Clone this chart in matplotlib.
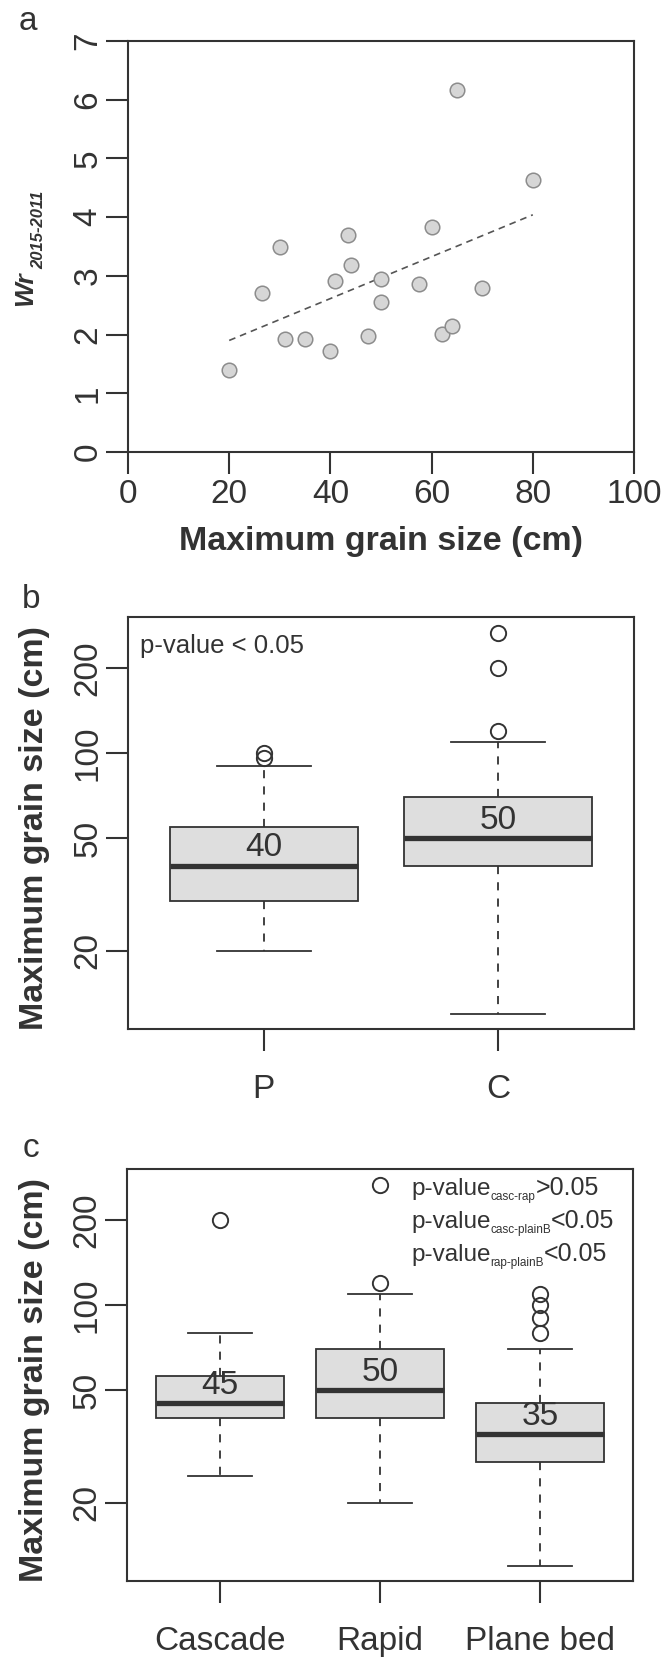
import matplotlib
matplotlib.use('Agg')
import matplotlib.pyplot as plt
from matplotlib.ticker import NullLocator

plt.rcParams['font.family'] = ['Liberation Sans', 'DejaVu Sans']

W, H = 664, 1662
INK = '#333333'

# panel a: Wr vs maximum grain size
grain_max = [20, 26.5, 30, 31, 35, 40, 41, 43.5, 44, 47.5, 50, 50, 57.5, 60, 62, 64, 65, 70, 80]
wr = [1.40, 2.70, 3.50, 1.93, 1.93, 1.72, 2.92, 3.70, 3.18, 1.98, 2.95, 2.55,
      2.86, 3.84, 2.01, 2.15, 6.16, 2.79, 4.63]
trend_x = [20, 80]
trend_y = [1.90, 4.04]

# panel b: P vs C
morph_b = ['P', 'C']
med_b = [40, 50]
q1_b = [30, 40]
q3_b = [55, 70]
lo_b = [20, 12]
hi_b = [90, 110]
out_b = [[96, 100], [120, 200, 266]]

# panel c: morphologies
morph_c = ['Cascade', 'Rapid', 'Plane bed']
med_c = [45, 50, 35]
q1_c = [40, 40, 28]
q3_c = [56, 70, 45]
lo_c = [25, 20, 12]
hi_c = [80, 110, 70]
out_c = [[200], [120, 266], [80, 90, 100, 110]]
pval_sub = ['casc-rap', 'casc-plainB', 'rap-plainB']
pval_rel = ['>0.05', '<0.05', '<0.05']


def px(x, y):
    return x / W, 1 - y / H


def make_axes(fig, left, top, right, bottom):
    ax = fig.add_axes([left / W, 1 - bottom / H, (right - left) / W, (bottom - top) / H])
    for s in ax.spines.values():
        s.set_linewidth(1.5)
        s.set_color(INK)
    ax.tick_params(length=15.8, width=1.5, color=INK, labelsize=24, labelcolor=INK,
                   top=False, right=False)
    ax.tick_params(axis='y', labelrotation=90, pad=2)
    return ax


def draw_box(ax, names, med, q1, q3, lo, hi, out, xpad):
    stats = []
    for n, m, a, b, l, h, f in zip(names, med, q1, q3, lo, hi, out):
        stats.append(dict(label=n, med=m, q1=a, q3=b, whislo=l, whishi=h, fliers=f))
    pos = list(range(1, len(names) + 1))
    ax.set_yscale('log')
    ax.bxp(stats, positions=pos, widths=0.8, patch_artist=True, showfliers=True,
           boxprops=dict(facecolor='#dedede', edgecolor=INK, linewidth=1.3),
           medianprops=dict(color=INK, linewidth=3.8, solid_capstyle='butt'),
           whiskerprops=dict(color=INK, linewidth=1.3, linestyle=(0, (4.5, 4.5))),
           capprops=dict(color=INK, linewidth=1.3),
           flierprops=dict(marker='o', markerfacecolor='none', markeredgecolor=INK,
                           markersize=11, markeredgewidth=1.4))
    for p, m in zip(pos, med):
        ax.annotate(str(m), (p, m), xytext=(0, 13), textcoords='offset points',
                    ha='center', va='center', fontsize=24, color=INK)
    ax.set_xlim(pos[0] - 0.58, pos[-1] + 0.58)
    ax.set_ylim(10.6, 303)
    ax.set_yticks([20, 50, 100, 200])
    ax.set_yticklabels(['20', '50', '100', '200'])
    ax.yaxis.set_minor_locator(NullLocator())
    ax.set_xticks(pos)
    ax.set_xticklabels(names)
    ax.tick_params(axis='x', pad=xpad)
    for t in ax.get_yticklabels():
        t.set_va('center')


fig = plt.figure(figsize=(W / 100, H / 100), dpi=100)
renderer = fig.canvas.get_renderer()


def run_text(x, y, parts):
    # parts: (text, fontsize, baseline shift in px)
    for s, size, dy in parts:
        t = fig.text(*px(x, y + dy), s, fontsize=size, color=INK, ha='left', va='baseline')
        x += t.get_window_extent(renderer).width


# ---- a ----
ax = make_axes(fig, 128, 41, 634, 452)
ax.plot(trend_x, trend_y, color='#555555', lw=1.2, linestyle=(0, (4, 3)))
ax.scatter(grain_max, wr, s=110, facecolor='#d6d6d6', edgecolor='#8c8c8c', linewidth=1.1, zorder=3)
ax.set_xlim(0, 100)
ax.set_ylim(0, 7)
ax.set_xticks([0, 20, 40, 60, 80, 100])
ax.set_yticks(range(0, 8))
ax.tick_params(axis='x', pad=3.6)
for t in ax.get_yticklabels():
    t.set_va('center')

fig.text(*px(28, 30), 'a', fontsize=24, color=INK, ha='center', va='baseline')
fig.text(*px(381, 550), 'Maximum grain size (cm)', fontsize=24.5, fontweight='bold',
         color=INK, ha='center', va='baseline')
fig.text(*px(32, 289), 'Wr', fontsize=19, fontweight='bold', fontstyle='italic', color=INK,
         rotation=90, rotation_mode='anchor', ha='center', va='baseline')
fig.text(*px(43, 229.5), '2015-2011', fontsize=12, fontweight='bold', fontstyle='italic',
         color=INK, rotation=90, rotation_mode='anchor', ha='center', va='baseline')

# ---- b ----
ax = make_axes(fig, 128, 617, 634, 1029)
draw_box(ax, morph_b, med_b, q1_b, q3_b, lo_b, hi_b, out_b, 16.5)
fig.text(*px(31, 608), 'b', fontsize=24, color=INK, ha='center', va='baseline')
fig.text(*px(140, 653), 'p-value < 0.05', fontsize=18.5, color=INK, ha='left', va='baseline')
fig.text(*px(43, 828.5), 'Maximum grain size (cm)', fontsize=24.5, fontweight='bold', color=INK,
         rotation=90, rotation_mode='anchor', ha='center', va='baseline')

# ---- c ----
ax = make_axes(fig, 127, 1169, 633, 1581)
draw_box(ax, morph_c, med_c, q1_c, q3_c, lo_c, hi_c, out_c, 16.5)
fig.text(*px(31, 1157), 'c', fontsize=24, color=INK, ha='center', va='baseline')
for sub, rel, yb in zip(pval_sub, pval_rel, [1195, 1228, 1261]):
    run_text(411, yb, [('p-value', 17.5, 0), (sub, 8.5, 5), (rel, 18, 0)])
fig.text(*px(43, 1380), 'Maximum grain size (cm)', fontsize=24.5, fontweight='bold', color=INK,
         rotation=90, rotation_mode='anchor', ha='center', va='baseline')

fig.savefig('out.png', dpi=100)
